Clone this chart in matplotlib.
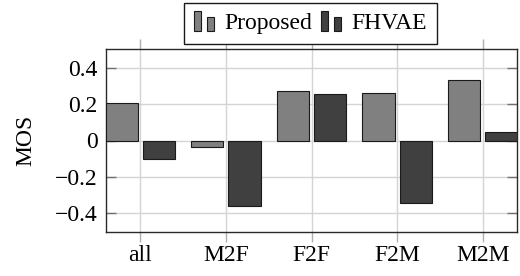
import matplotlib
matplotlib.use("Agg")
import matplotlib.pyplot as plt
from matplotlib.patches import Rectangle
from matplotlib.legend_handler import HandlerBase
import numpy as np

categories = ["all", "M2F", "F2F", "F2M", "M2M"]
proposed = [0.206, -0.035, 0.274, 0.258, 0.334]
fhvae = [-0.100, -0.360, 0.255, -0.345, 0.049]
yticks = [-0.4, -0.2, 0, 0.2, 0.4]
ytick_labels = ["\u22120.4", "\u22120.2", "0", "0.2", "0.4"]

plt.rcParams['font.family'] = ['Liberation Serif', 'DejaVu Serif']
plt.rcParams['font.size'] = 17

fig = plt.figure(figsize=(5.2, 2.76), dpi=100)
ax = fig.add_axes([106/520, 1-231.7/276, (517-106)/520, (231.7-49.3)/276])

x = np.arange(len(categories))
w = 0.375
off = 0.217
c_prop = "#808080"
c_fh = "#404040"
ax.bar(x - off, proposed, w, color=c_prop, edgecolor="#1a1a1a", linewidth=0.8, zorder=3, label="Proposed")
ax.bar(x + off, fhvae, w, color=c_fh, edgecolor="#1a1a1a", linewidth=0.8, zorder=3, label="FHVAE")

ax.set_xlim(-0.4, 4.4)
ax.set_ylim(-0.5, 0.5)
ax.set_xticks(x)
ax.set_xticklabels(categories)
ax.set_yticks(yticks)
ax.set_yticklabels(ytick_labels)
ax.set_ylabel("MOS")
ax.yaxis.set_label_coords(-0.17, 0.5)

ax.grid(True, color="#d4d4d4", linewidth=1.0, zorder=0)
ax.set_axisbelow(True)
ax.tick_params(axis='x', direction='out', length=7.5, width=1.0, color="#b0b0b0",
               top=True, bottom=True, pad=2)
ax.tick_params(axis='y', direction='in', length=7.5, width=1.0, color="#707070",
               left=True, right=True, pad=6)
for s in ax.spines.values():
    s.set_color("#2a2a2a")
    s.set_linewidth(1.0)


class TwoBarHandler(HandlerBase):
    def create_artists(self, legend, orig_handle, xdescent, ydescent, width, height, fontsize, trans):
        fc = orig_handle.get_facecolor()
        bw = width * 0.3
        r1 = Rectangle((-xdescent, -ydescent - 0.1*height), bw, height*1.2, facecolor=fc,
                       edgecolor="#1a1a1a", linewidth=0.8, transform=trans)
        r2 = Rectangle((-xdescent + width*0.55, -ydescent - 0.1*height), bw, height*0.85, facecolor=fc,
                       edgecolor="#1a1a1a", linewidth=0.8, transform=trans)
        return [r1, r2]

h1 = Rectangle((0, 0), 1, 1, facecolor=c_prop)
h2 = Rectangle((0, 0), 1, 1, facecolor=c_fh)
leg = fig.legend([h1, h2], ["Proposed", "FHVAE"], loc='upper center',
                 bbox_to_anchor=(310.5/520, 1-3/276), ncol=2,
                 handler_map={Rectangle: TwoBarHandler()},
                 frameon=True, fancybox=False, framealpha=1, edgecolor="#1a1a1a",
                 handlelength=1.0, handletextpad=0.28, columnspacing=0.4,
                 borderpad=0.42, borderaxespad=0, fontsize=17)
leg.get_frame().set_linewidth(1.0)

fig.savefig("out.png", dpi=100)
